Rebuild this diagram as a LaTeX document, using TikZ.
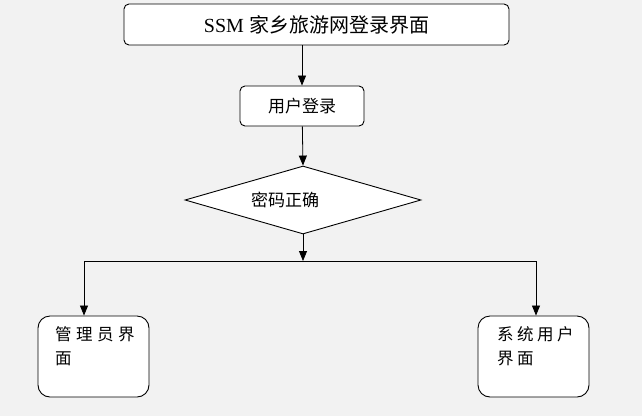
\documentclass[tikz,border=0pt]{standalone}
\usepackage{fontspec}
\setmainfont{Liberation Serif}
\newfontfamily\cjk{Noto Sans CJK SC}
\usetikzlibrary{arrows.meta, positioning, shapes.geometric}
\definecolor{bggray}{RGB}{242,242,242}
\tikzset{
  titlebox/.style={draw, fill=white, rounded corners=5pt, line width=0.9pt,
                   minimum width=385pt, minimum height=41pt, font=\fontsize{20}{24}\selectfont},
  stepbox/.style={draw, fill=white, rounded corners=5pt, line width=0.9pt,
                  minimum width=124pt, minimum height=40pt, font=\cjk\fontsize{17}{21}\selectfont},
  check/.style={draw, diamond, aspect=3.5, fill=white, line width=0.9pt,
                minimum width=236pt, minimum height=68pt, font=\cjk\fontsize{17}{21}\selectfont},
  pagebox/.style={draw, fill=white, rounded corners=12pt, line width=0.9pt,
                  minimum width=111pt, minimum height=81pt},
  pagetext/.style={anchor=north west, inner sep=0pt, align=left, font=\cjk\fontsize{16.5}{24}\selectfont},
  flow/.style={-{Triangle[length=10pt,width=8pt]}, line width=0.8pt},
}
\begin{document}
\begin{tikzpicture}[x=1pt, y=-1pt]
\useasboundingbox[fill=bggray] (0,0) rectangle (642,416);

% boxes of the flow
\node[titlebox] (title) at (316.5,24.5) {SSM {\cjk 家乡旅游网登录界面}};
\node[stepbox] (login) at (302,106) {用户登录};
\node[check] (pwd) at (303,200) {\makebox[104pt][l]{\raisebox{1.5pt}{密码正确}}};
\node[pagebox] (admin) at (93.5,356.5) {};
\node[pagebox] (user) at (533.5,356.5) {};
\node[pagetext] (admintext) at (55,326.5) {管\hspace{4.5pt}理\hspace{4.5pt}员\hspace{4.5pt}界\\面};
\node[pagetext] (usertext) at (497,326.5) {系\hspace{3.5pt}统\hspace{3.5pt}用\hspace{3.5pt}户\\界\hspace{3.5pt}面};

% split line
\coordinate (split) at (303,261);
\coordinate (leftend) at (84,261);
\coordinate (rightend) at (536,261);

\draw[flow] (title.south -| login) -- (login);
\draw[flow] (login) -- (pwd.north);
\draw[flow] (pwd.south) -- (split);
\draw[line width=0.8pt] (leftend) -- (rightend);
\draw[flow] (leftend) -- (leftend |- admin.north);
\draw[flow] (rightend) -- (rightend |- user.north);
\end{tikzpicture}
\end{document}
